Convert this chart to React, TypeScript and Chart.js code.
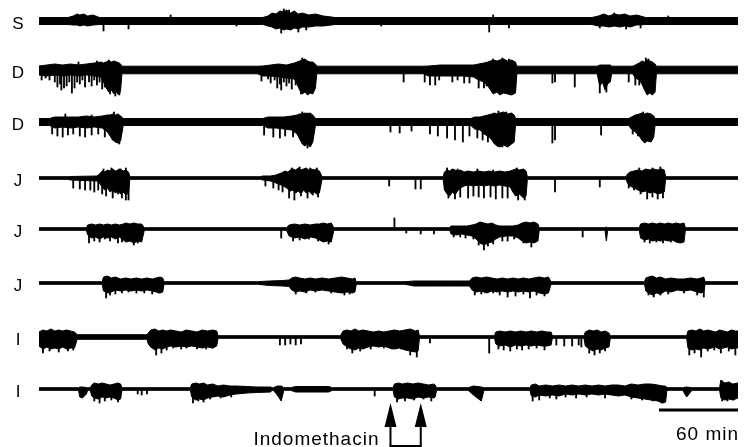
import React, { useEffect, useRef } from 'react';
import { Chart, registerables } from 'chart.js';

Chart.register(...registerables);

// ---------- data (time in minutes, amplitude in arbitrary units) ----------
const RECORD_MIN = 531;
const CHANNELS = ['S', 'D', 'D', 'J', 'J', 'J', 'I', 'I'];
const BASELINE_NOISE = [3.5, 3.8, 3.5, 1.3, 1.3, 1.3, 1.3, 1.3];

// envelope vertices of each burst: [minute, up, down]
const S_BURSTS = [
  [[22, 3.5, 3.5], [26, 5, 4], [29, 7, 4], [31, 6, 5], [34, 7, 4], [37, 5, 5], [41, 6, 4], [46, 3.5, 3.5]],
  [[170, 3.5, 3.5], [174, 5, 5], [177, 8, 6], [180, 7, 8], [183, 10, 7], [186, 9, 9], [188, 11, 8], [191, 8, 9], [194, 10, 7], [197, 7, 8], [200, 8, 6], [205, 6, 6], [210, 7, 5], [216, 5, 5], [225, 3.5, 3.5]],
  [[420, 3.5, 3.5], [425, 5, 5], [429, 7, 5], [433, 5, 6], [437, 7, 5], [441, 6, 6], [445, 7, 5], [449, 5, 6], [454, 6, 4], [461, 3.5, 3.5]],
];
const S_SPIKES = [[49, 10], [68, 8], [100, -6], [150, 5], [184, 12], [186, -12], [190, -11], [197, 11], [203, 9], [260, 5], [342, 11], [345, -6], [357, 7], [426, 7], [437, -8], [446, 8], [457, 7], [478, -5]];

const D1_BURSTS = [
  [[0, 4, 5], [6, 5, 6], [12, 6, 5], [18, 5, 6], [24, 6, 5], [30, 5, 6], [36, 6, 5], [42, 7, 6], [47, 8, 7], [49, 7, 12], [51, 8, 18], [53, 9, 22], [55, 8, 20], [57, 9, 24], [59, 8, 22], [61, 7, 25], [62, 6, 20], [63, 3.8, 3.8]],
  [[166, 3.8, 3.8], [170, 4, 6], [176, 5, 6], [182, 6, 7], [188, 5, 8], [194, 7, 9], [196, 8, 14], [198, 9, 20], [200, 10, 24], [202, 11, 22], [204, 9, 25], [206, 8, 23], [208, 8, 24], [210, 6, 18], [211, 3.8, 3.8]],
  [[292, 3.8, 3.8], [296, 4, 6], [305, 5, 6], [314, 5, 6], [322, 5, 6], [330, 5, 7], [334, 6, 10], [338, 7, 12], [341, 8, 16], [343, 9, 20], [345, 10, 24], [348, 9, 22], [350, 10, 25], [353, 11, 23], [356, 9, 24], [359, 10, 25], [362, 8, 23], [363, 3.8, 3.8]],
  [[424, 3.8, 3.8], [426, 5, 16], [428, 5, 12], [430, 5, 20], [432, 5, 14], [434, 5, 12], [435, 3.8, 3.8]],
  [[451, 3.8, 3.8], [453, 5, 8], [456, 7, 10], [458, 9, 14], [460, 8, 20], [462, 10, 25], [464, 9, 23], [466, 8, 25], [468, 6, 22], [469, 3.8, 3.8]],
];
const D1_SPIKES = [
  [2, 10], [5, 8], [8, 10], [12, 12], [14, 17], [16, 14], [17, 20], [19, 18], [21, 16], [23, 12], [25, 23], [27, 18], [29, 12], [31, 14], [33, 10], [35, 17], [38, 12], [40, 16], [42, 10], [44, 15], [46, 12], [48, 19], [50, 17], [54, 24], [58, 26], [60, 24], [61, 25],
  [30, -8], [44, -9], [53, -10],
  [169, 11], [174, 9], [176, 13], [179, 10], [181, 18], [183, 14], [184, 20], [186, 12], [188, 16], [190, 13], [192, 19], [195, 15], [199, 24], [200, -12], [202, -10],
  [277, 12],
  [293, 12], [297, 15], [301, 15], [304, 10], [314, 12], [318, 10], [323, 13], [327, 13], [334, 18], [338, 18], [340, 16], [345, -11], [352, -12], [357, -11],
  [390, 13], [392, 12], [407, 17], [426, 23], [431, 22], [448, 12], [453, 15], [456, 15], [461, -12], [463, -11],
];

const D2_BURSTS = [
  [[8, 3.5, 3.5], [12, 5, 6], [18, 5, 5], [24, 5, 6], [30, 5, 5], [36, 6, 6], [42, 5, 5], [48, 6, 6], [52, 7, 10], [54, 7, 14], [56, 8, 18], [58, 7, 20], [60, 8, 21], [62, 6, 19], [64, 3.5, 3.5]],
  [[170, 3.5, 3.5], [174, 5, 6], [180, 5, 6], [186, 5, 7], [192, 6, 8], [196, 7, 12], [198, 8, 17], [200, 8, 22], [202, 9, 24], [204, 8, 22], [206, 9, 25], [208, 7, 20], [210, 3.5, 3.5]],
  [[328, 3.5, 3.5], [331, 5, 7], [335, 5, 8], [338, 6, 12], [341, 7, 14], [344, 8, 18], [346, 9, 22], [348, 8, 24], [350, 9, 25], [353, 10, 23], [356, 8, 25], [359, 9, 22], [361, 7, 20], [362, 3.5, 3.5]],
  [[448, 3.5, 3.5], [450, 5, 7], [453, 7, 10], [456, 8, 14], [458, 9, 18], [460, 8, 21], [462, 9, 19], [465, 8, 20], [467, 6, 15], [468, 3.5, 3.5]],
];
const D2_SPIKES = [
  [10, 12], [14, 14], [18, 15], [22, 13], [26, 12], [31, 14], [35, 15], [40, 13], [45, 12], [50, 15], [56, 18], [61, 22], [20, -8], [40, -7], [57, -10],
  [171, 13], [178, 15], [183, 16], [187, 14], [193, 15], [204, 26], [200, -10], [204, -9],
  [267, 10], [274, 11], [283, 9], [297, 12], [303, 14], [310, 16], [316, 18], [322, 20], [327, 14],
  [333, 16], [337, 18], [341, 20], [352, 25], [356, 22], [349, -11], [355, -10],
  [390, 21], [392, 18], [427, 13], [451, 12], [455, 14], [459, 18], [459, -10],
];

const J1_BURSTS = [
  [[22, 1.3, 1.3], [24, 1.5, 2], [44, 2, 3], [46, 4, 5], [48, 7, 9], [50, 6, 12], [52, 8, 10], [54, 7, 14], [56, 9, 12], [58, 7, 15], [60, 8, 13], [62, 9, 16], [64, 7, 14], [66, 8, 17], [68, 6, 15], [69, 1.3, 1.3]],
  [[168, 1.3, 1.3], [170, 2, 2], [176, 2, 3], [180, 3, 5], [184, 5, 7], [187, 7, 9], [189, 6, 11], [191, 8, 13], [193, 9, 12], [195, 8, 15], [197, 10, 13], [199, 8, 16], [201, 9, 12], [203, 10, 15], [205, 8, 13], [207, 9, 16], [209, 8, 14], [211, 9, 16], [213, 7, 15], [215, 1.3, 1.3]],
  [[307, 1.3, 1.3], [308, 6, 12], [310, 8, 16], [312, 7, 18], [314, 9, 14], [316, 8, 17], [318, 7, 13], [320, 8, 10], [323, 6, 8], [326, 7, 7], [330, 6, 8], [334, 7, 7], [338, 6, 8], [342, 7, 7], [346, 6, 8], [350, 7, 7], [354, 6, 8], [358, 7, 9], [360, 8, 14], [362, 9, 18], [365, 8, 16], [368, 9, 20], [370, 7, 18], [371, 1.3, 1.3]],
  [[446, 1.3, 1.3], [447, 4, 5], [449, 6, 8], [452, 7, 10], [455, 8, 12], [458, 7, 14], [461, 9, 13], [464, 8, 15], [467, 9, 14], [470, 8, 16], [473, 9, 15], [475, 8, 14], [476, 1.3, 1.3]],
];
const J1_SPIKES = [
  [26, 10], [31, 11], [35, 12], [39, 12], [42, 14], [45, 12], [48, 16], [51, 18], [56, 20], [60, 16], [63, 20], [66, 22], [68, 22], [49, -9], [55, -10], [61, -9], [66, -10],
  [172, 8], [178, 10], [182, 12], [185, 14], [190, 20], [194, 22], [199, 18], [204, 20], [208, 17], [212, 19], [192, -10], [198, -11], [206, -10], [211, -10],
  [266, 8], [286, 11], [290, 11],
  [311, 20], [316, 21], [320, 19], [326, 20], [330, 18], [334, 19], [338, 20], [343, 19], [347, 21], [352, 20], [356, 20], [364, 22], [369, 22],
  [310, -10], [318, -9], [333, -9], [345, -8], [363, -10],
  [392, 14], [426, 9], [448, 10], [452, 12], [457, 16], [462, 21], [466, 19], [470, 21], [474, 20], [456, -10], [466, -10], [472, -11],
];

const J2_BURSTS = [
  [[36, 1.3, 1.3], [37, 4, 6], [40, 5, 9], [43, 4, 8], [46, 5, 10], [49, 4, 8], [52, 5, 9], [55, 4, 8], [58, 5, 10], [61, 4, 8], [64, 5, 11], [66, 6, 13], [69, 5, 12], [72, 6, 14], [75, 5, 12], [78, 5, 13], [80, 1.3, 1.3]],
  [[188, 1.3, 1.3], [190, 4, 7], [194, 5, 9], [198, 4, 8], [202, 5, 10], [206, 4, 8], [210, 5, 9], [213, 5, 11], [216, 6, 13], [219, 5, 12], [222, 6, 13], [224, 1.3, 1.3]],
  [[312, 1.3, 1.3], [313, 3, 5], [317, 3, 6], [321, 3, 5], [325, 3, 6], [329, 4, 7], [332, 5, 10], [335, 7, 14], [338, 6, 16], [341, 5, 14], [344, 6, 13], [347, 4, 10], [350, 3, 8], [355, 3, 7], [360, 3, 7], [364, 4, 9], [367, 6, 12], [370, 7, 14], [373, 6, 13], [376, 7, 14], [379, 5, 12], [380, 1.3, 1.3]],
  [[430, 1.3, 1.3], [431, 2, 12], [432, 1.3, 1.3]],
  [[456, 1.3, 1.3], [457, 5, 9], [460, 6, 11], [463, 5, 10], [466, 6, 12], [469, 5, 11], [472, 6, 12], [475, 5, 11], [478, 6, 12], [481, 5, 11], [484, 6, 13], [487, 5, 14], [490, 6, 13], [491, 1.3, 1.3]],
];
const J2_SPIKES = [
  [38, 14], [42, 12], [46, 13], [50, 10], [54, 12], [60, 14], [63, 13], [72, 16], [75, 14],
  [184, 9], [193, 12], [198, 11], [205, 10], [212, 12], [220, 15],
  [270, -11], [279, 4], [290, 5], [300, 5],
  [315, 8], [320, 8], [324, 9], [330, 10], [334, 16], [338, 21], [341, 17], [345, 15], [352, 12], [356, 12], [361, 10], [368, 14], [374, 18],
  [413, 8], [460, 13], [464, 14], [469, 13], [474, 14], [480, 13],
];

const J3_BURSTS = [
  [[48, 1.3, 1.3], [49, 6, 8], [52, 7, 10], [55, 5, 9], [58, 6, 7], [62, 4, 8], [66, 5, 7], [70, 4, 8], [74, 5, 7], [78, 4, 8], [82, 5, 7], [86, 4, 8], [89, 5, 9], [92, 6, 10], [94, 5, 9], [95, 1.3, 1.3]],
  [[166, 1.3, 1.3], [175, 2, 2.5], [185, 2.5, 3], [190, 3, 3.5], [192, 5, 7], [195, 6, 9], [198, 5, 8], [202, 4, 9], [206, 5, 7], [210, 4, 8], [215, 5, 7], [220, 4, 8], [225, 5, 9], [230, 6, 10], [234, 5, 9], [238, 4, 10], [240, 5, 9], [241, 1.3, 1.3]],
  [[278, 1.3, 1.3], [285, 2, 3], [300, 2, 3], [315, 2, 3], [327, 2, 3], [329, 5, 7], [332, 6, 9], [336, 5, 8], [340, 6, 10], [344, 5, 8], [348, 4, 9], [352, 5, 8], [356, 4, 9], [360, 5, 8], [364, 4, 9], [368, 5, 8], [372, 4, 9], [376, 5, 8], [380, 6, 10], [384, 5, 11], [387, 6, 10], [389, 1.3, 1.3]],
  [[460, 1.3, 1.3], [461, 5, 8], [463, 6, 10], [466, 7, 12], [469, 5, 10], [472, 6, 11], [476, 4, 8], [480, 5, 9], [485, 4, 7], [490, 4, 8], [495, 5, 7], [500, 4, 9], [503, 5, 10], [505, 6, 9], [506, 1.3, 1.3]],
];
const J3_SPIKES = [
  [51, 15], [54, 12], [58, 11], [63, 10], [68, 9], [74, 10], [80, 10], [86, 11], [91, 10],
  [195, 11], [203, 10], [210, 9], [222, 10], [232, 12], [236, 11],
  [331, 12], [336, 11], [345, 10], [350, 12], [356, 14], [362, 13], [368, 11], [373, 15], [378, 12], [384, 13],
  [463, 12], [467, 14], [472, 12], [478, 11], [490, 10], [500, 12], [505, 14],
];

const I1_BURSTS = [
  [[0, 5, 9], [3, 7, 12], [6, 6, 10], [9, 8, 12], [12, 6, 11], [15, 7, 12], [18, 6, 10], [21, 7, 12], [24, 6, 11], [27, 5, 11], [29, 2.3, 2.3], [80, 2.3, 2.3],
   [82, 2.3, 2.3], [83, 4, 7], [85, 7, 10], [88, 8, 13], [91, 6, 11], [94, 7, 12], [97, 6, 10], [100, 7, 9], [104, 6, 10], [108, 5, 9], [112, 7, 10], [116, 6, 9], [120, 5, 10], [124, 7, 11], [128, 6, 10], [132, 7, 11], [135, 6, 9], [136, 1.3, 1.3]],
  [[229, 1.3, 1.3], [231, 6, 7], [234, 7, 10], [237, 6, 12], [240, 8, 13], [243, 6, 11], [246, 7, 12], [250, 6, 10], [254, 5, 9], [258, 6, 10], [262, 5, 9], [266, 6, 11], [270, 7, 12], [274, 6, 11], [278, 7, 13], [282, 8, 14], [286, 6, 15], [288, 7, 14], [289, 1.3, 1.3]],
  [[346, 1.3, 1.3], [347, 5, 7], [350, 6, 9], [354, 5, 8], [358, 6, 10], [362, 5, 8], [366, 6, 9], [370, 5, 8], [374, 6, 9], [378, 5, 8], [382, 6, 9], [386, 5, 9], [389, 5, 8], [390, 1.3, 1.3]],
  [[414, 1.3, 1.3], [415, 5, 9], [418, 7, 12], [421, 6, 14], [424, 7, 12], [427, 5, 13], [430, 6, 11], [433, 4, 10], [434, 1.3, 1.3]],
  [[492, 1.3, 1.3], [493, 6, 11], [496, 7, 13], [499, 6, 12], [502, 8, 13], [505, 6, 11], [508, 7, 12], [511, 6, 11], [514, 5, 10], [517, 7, 12], [520, 6, 11], [523, 5, 10], [526, 7, 12], [529, 6, 11], [531, 6, 11]],
];
const I1_SPIKES = [
  [3, 16], [8, 14], [15, 15], [22, 14], [26, 13],
  [85, 10], [89, 18], [93, 16], [97, 13], [102, 11], [108, 12], [112, 11], [120, 12], [127, 12], [132, 11],
  [183, 8], [187, 8], [191, 7], [195, 8], [199, 7],
  [234, 12], [238, 16], [244, 14], [252, 12], [262, 11], [268, 12], [275, 12], [282, 18], [287, 20],
  [297, 6], [342, 16],
  [349, 12], [353, 13], [358, 14], [363, 12], [367, 13], [372, 12], [378, 11], [384, 13],
  [393, 8], [399, 9], [405, 9], [410, 8], [412, 10], [418, 16], [422, 18], [426, 16], [430, 14],
  [494, 18], [498, 16], [503, 20], [508, 14], [513, 13], [518, 16], [524, 14], [529, 18],
];

const I2_BURSTS = [
  [[30, 1.3, 1.3], [31, 2, 8], [33, 2, 9], [36, 1.5, 5], [37, 1.3, 1.3]],
  [[39, 1.3, 1.3], [40, 4, 7], [42, 6, 9], [45, 5, 10], [48, 6, 8], [51, 5, 9], [54, 4, 8], [57, 5, 9], [60, 6, 11], [62, 5, 10], [63, 1.3, 1.3]],
  [[115, 1.3, 1.3], [116, 5, 8], [119, 6, 11], [122, 5, 10], [125, 6, 11], [128, 4, 9], [132, 5, 8], [136, 3, 7], [140, 4, 8], [145, 3, 6], [150, 3, 5], [158, 2.5, 4], [165, 2, 3.5], [176, 2, 3], [177, 1.3, 1.3]],
  [[178, 1.3, 1.3], [181, 3, 6], [184, 3, 12], [186, 1.3, 1.3]],
  [[191, 1.3, 1.3], [195, 2.5, 3], [220, 2.5, 3], [223, 1.3, 1.3]],
  [[269, 1.3, 1.3], [270, 5, 8], [273, 6, 10], [276, 5, 9], [280, 6, 9], [284, 5, 10], [288, 6, 8], [292, 5, 9], [296, 4, 8], [300, 5, 9], [301, 4, 8], [302, 1.3, 1.3]],
  [[326, 1.3, 1.3], [330, 3, 6], [336, 2, 12], [338, 1.3, 1.3]],
  [[373, 1.3, 1.3], [374, 4, 7], [377, 5, 8], [380, 3, 6], [385, 4, 7], [390, 3, 6], [395, 4, 7], [400, 3, 5], [405, 4, 6], [410, 3, 5], [415, 4, 6], [420, 3, 5], [425, 4, 6], [430, 3, 5], [435, 4, 6], [440, 4, 7], [445, 3, 6], [450, 5, 8], [455, 4, 9], [460, 5, 10], [465, 5, 11], [470, 4, 12], [474, 3, 14], [476, 3, 13], [477, 1.3, 1.3]],
  [[489, 1.3, 1.3], [492, 2, 8], [496, 1.3, 1.3]],
  [[517, 1.3, 1.3], [518, 9, 9], [521, 6, 11], [524, 7, 10], [527, 5, 11], [531, 6, 9]],
];
const I2_SPIKES = [
  [42, 12], [46, 14], [50, 12], [55, 11], [60, 13], [75, 5], [78, 6], [82, 5],
  [117, 14], [121, 12], [125, 13], [130, 10], [138, 9], [146, 8], [255, 7],
  [272, 13], [278, 12], [285, 11], [292, 10], [298, 12],
  [375, 12], [380, 11], [388, 9], [393, 10], [400, 8], [408, 9], [416, 8], [430, 9], [450, 10], [458, 11], [466, 12], [473, 14],
  [519, 12], [523, 12], [528, 11],
];

const INDOMETHACIN_MIN = [267, 290];
const DRUG_LABEL = 'Indomethacin';
const SCALE_BAR_MIN = 60;
const SCALE_BAR_LABEL = '60 min';

// ---------- layout (not data) ----------
const ROW_Y = [21, 70, 122, 178, 229, 283, 337, 389];
const FONT = '"Liberation Sans", Arial, Helvetica, sans-serif';

const TRACE_BURSTS = [S_BURSTS, D1_BURSTS, D2_BURSTS, J1_BURSTS, J2_BURSTS, J3_BURSTS, I1_BURSTS, I2_BURSTS];
const TRACE_SPIKES = [S_SPIKES, D1_SPIKES, D2_SPIKES, J1_SPIKES, J2_SPIKES, J3_SPIKES, I1_SPIKES, I2_SPIKES];

function buildEnvelope(bursts: number[][][], noise: number) {
  const pts: number[][] = [];
  const flat = bursts.flat();
  if (!flat.length || flat[0][0] > 0) pts.push([0, noise, noise]);
  flat.forEach((v) => pts.push(v));
  if (pts[pts.length - 1][0] < RECORD_MIN) pts.push([RECORD_MIN, noise, noise]);
  return pts;
}

const overlay = {
  id: 'overlay',
  afterDraw(chart: any) {
    const { ctx } = chart;
    const xs = chart.scales.x;
    const ys = chart.scales.y;
    ctx.save();
    ctx.fillStyle = '#000';
    ctx.strokeStyle = '#000';
    ctx.font = `17px ${FONT}`;
    ctx.textAlign = 'center';
    ctx.textBaseline = 'middle';
    CHANNELS.forEach((c, i) => ctx.fillText(c, 18, ys.getPixelForValue(ROW_Y[i]) + 3));
    const sx0 = xs.getPixelForValue(RECORD_MIN - SCALE_BAR_MIN);
    const sx1 = xs.getPixelForValue(RECORD_MIN);
    const sy = ys.getPixelForValue(410);
    ctx.lineWidth = 3;
    ctx.beginPath();
    ctx.moveTo(sx0, sy);
    ctx.lineTo(sx1, sy);
    ctx.stroke();
    ctx.font = `19px ${FONT}`;
    try { (ctx as any).letterSpacing = '1px'; } catch (e) {}
    ctx.textAlign = 'right';
    ctx.textBaseline = 'alphabetic';
    ctx.fillText(SCALE_BAR_LABEL, sx1 + 1, ys.getPixelForValue(440));
    const ax = INDOMETHACIN_MIN.map((t) => xs.getPixelForValue(t));
    const yTip = ys.getPixelForValue(403);
    const yHead = ys.getPixelForValue(427);
    const yBot = ys.getPixelForValue(446);
    ctx.lineWidth = 2;
    ax.forEach((x) => {
      ctx.beginPath();
      ctx.moveTo(x, yTip);
      ctx.lineTo(x - 6, yHead);
      ctx.lineTo(x + 6, yHead);
      ctx.closePath();
      ctx.fill();
      ctx.beginPath();
      ctx.moveTo(x, yHead);
      ctx.lineTo(x, yBot);
      ctx.stroke();
    });
    ctx.beginPath();
    ctx.moveTo(ax[0] - 1, yBot);
    ctx.lineTo(ax[ax.length - 1] + 1, yBot);
    ctx.stroke();
    ctx.textAlign = 'right';
    ctx.fillText(DRUG_LABEL, ax[0] - 11, ys.getPixelForValue(445));
    ctx.restore();
  },
};

export default function App() {
  const ref = useRef<HTMLCanvasElement | null>(null);
  useEffect(() => {
    if (!ref.current) return;
    const datasets: any[] = [];
    TRACE_BURSTS.forEach((bursts, i) => {
      const base = ROW_Y[i];
      const env = buildEnvelope(bursts as any, BASELINE_NOISE[i]);
      datasets.push({
        type: 'line',
        data: env.map((v) => ({ x: v[0], y: base - v[1] })),
        borderColor: '#000',
        borderWidth: 1,
        pointRadius: 0,
        tension: 0,
        fill: false,
      });
      datasets.push({
        type: 'line',
        data: env.map((v) => ({ x: v[0], y: base + v[2] })),
        borderColor: '#000',
        backgroundColor: '#000',
        borderWidth: 1,
        pointRadius: 0,
        tension: 0,
        fill: '-1',
      });
    });
    const spikeData: any[] = [];
    TRACE_SPIKES.forEach((spikes, i) => {
      const base = ROW_Y[i];
      spikes.forEach(([t, d]) => {
        spikeData.push({ x: t, y: d >= 0 ? [base, base + d] : [base + d, base] });
      });
    });
    datasets.push({
      type: 'bar',
      data: spikeData,
      backgroundColor: '#000',
      borderWidth: 0,
      barThickness: 1.2,
      grouped: false,
    });
    const chart = new Chart(ref.current, {
      type: 'line',
      data: { datasets },
      options: {
        animation: false,
        responsive: true,
        maintainAspectRatio: false,
        layout: { padding: { left: 39, right: 6, top: 0, bottom: 0 } },
        plugins: { legend: { display: false }, tooltip: { enabled: false } },
        scales: {
          x: { type: 'linear', min: 0, max: RECORD_MIN, display: false, offset: false },
          y: { type: 'linear', min: 0, max: 447, reverse: true, display: false },
        },
      } as any,
      plugins: [overlay],
    });
    return () => chart.destroy();
  }, []);
  return (
    <div style={{ position: 'absolute', left: 0, top: 0, width: 744, height: 447, background: '#fff' }}>
      <canvas ref={ref} />
    </div>
  );
}
